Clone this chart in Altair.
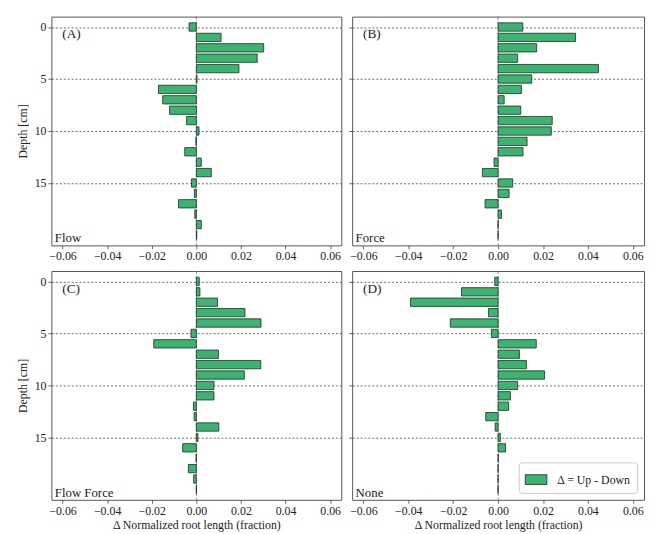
import altair as alt
import pandas as pd

depth = list(range(21))

flow = [-0.0033, 0.0111, 0.0302, 0.0273, 0.0191, 0.0003, -0.0170, -0.0151, -0.0120, -0.0044,
        0.0012, -0.0002, -0.0052, 0.0022, 0.0067, -0.0022, -0.0009, -0.0080, -0.0007, 0.0022, 0.0002]
force = [0.0110, 0.0345, 0.0172, 0.0087, 0.0447, 0.0150, 0.0104, 0.0027, 0.0101, 0.0241,
         0.0237, 0.0129, 0.0111, -0.0018, -0.0070, 0.0065, 0.0049, -0.0058, 0.0015, 0.0, 0.0]
flow_force = [0.0013, 0.0016, 0.0095, 0.0218, 0.0290, -0.0024, -0.0191, 0.0099, 0.0289, 0.0215,
              0.0079, 0.0079, -0.0013, -0.0010, 0.0101, 0.0007, -0.0061, -0.0001, -0.0036, -0.0012, 0.0]
none = [-0.0015, -0.0163, -0.0390, -0.0043, -0.0213, -0.0030, 0.0170, 0.0095, 0.0126, 0.0207,
        0.0087, 0.0055, 0.0047, -0.0055, -0.0013, 0.0010, 0.0033, 0.0001, 0.0, 0.0, 0.0]

panel_keys = ["Flow", "Force", "Flow Force", "None"]
panel_letters = ["(A)", "(B)", "(C)", "(D)"]
series_values = [flow, force, flow_force, none]
legend_label = "Δ = Up - Down"
x_ticks = [-0.06, -0.04, -0.02, 0.0, 0.02, 0.04, 0.06]
y_ticks = [0, 5, 10, 15]

rows = []
for key, vals in zip(panel_keys, series_values):
    for d, v in zip(depth, vals):
        rows.append({"panel": key, "depth": d, "value": v, "label": legend_label})
df = pd.DataFrame(rows)

FONT = "Liberation Serif"
GREEN = "#3cb371"
EDGE = "#1e2a22"
H = 232


def make_panel(key, letter, left, bottom, w, legend=False):
    xaxis = alt.Axis(values=x_ticks, format=".2f", grid=False,
                     title="Δ Normalized root length (fraction)" if bottom else None,
                     titlePadding=4)
    if left:
        yaxis = alt.Axis(values=y_ticks, grid=True, gridDash=[2, 2], gridColor="#444",
                         gridWidth=0.8, title="Depth [cm]", titlePadding=5)
    else:
        yaxis = alt.Axis(values=y_ticks, grid=True, gridDash=[2, 2], gridColor="#444",
                         gridWidth=0.8, labels=False, title=None)
    xs = alt.Scale(domain=[-0.065, 0.065], nice=False, zero=False)
    ys = alt.Scale(domain=[-1, 21], reverse=True, nice=False, zero=False)

    base = alt.Chart(df).transform_filter(alt.datum.panel == key).transform_calculate(
        y0="datum.depth - 0.4", y1="datum.depth + 0.4", zero="0")

    zero_rule = alt.Chart(pd.DataFrame({"z": [0.0]})).mark_rule(
        color="#666", strokeDash=[3, 2], strokeWidth=0.8
    ).encode(x=alt.X("z:Q", scale=xs, axis=xaxis))

    bar_kwargs = dict(
        x=alt.X("value:Q", scale=xs, axis=xaxis),
        x2="zero:Q",
        y=alt.Y("y0:Q", scale=ys, axis=yaxis),
        y2="y1:Q",
    )
    if legend:
        bars = base.mark_bar(stroke=EDGE, strokeWidth=0.8).encode(
            fill=alt.Fill("label:N", scale=alt.Scale(domain=[legend_label], range=[GREEN]),
                          legend=alt.Legend(
                              title=None, orient="bottom-right", offset=7,
                              fillColor="white", strokeColor="#cccccc", cornerRadius=3,
                              padding=6, labelFont=FONT, labelFontSize=12, labelColor="#222",
                              symbolType="M-1,-0.45H1V0.45H-1Z", symbolSize=484,
                              symbolStrokeColor=EDGE, symbolStrokeWidth=0.8,
                              symbolFillColor=GREEN, labelOffset=10)),
            **bar_kwargs)
    else:
        bars = base.mark_bar(fill=GREEN, stroke=EDGE, strokeWidth=0.8).encode(**bar_kwargs)

    letter_text = alt.Chart(pd.DataFrame({"t": [letter]})).mark_text(
        font=FONT, fontSize=13.5, align="left", baseline="middle", color="#222"
    ).encode(text="t:N", x=alt.value(11), y=alt.value(18))
    name_text = alt.Chart(pd.DataFrame({"t": [key]})).mark_text(
        font=FONT, fontSize=13, align="left", baseline="alphabetic", color="#222"
    ).encode(text="t:N", x=alt.value(3.5), y=alt.value(H - 3))

    return alt.layer(zero_rule, bars, letter_text, name_text).properties(width=w, height=H)


pA = make_panel("Flow", "(A)", True, False, 294)
pB = make_panel("Force", "(B)", False, False, 296)
pC = make_panel("Flow Force", "(C)", True, True, 294)
pD = make_panel("None", "(D)", False, True, 296, legend=True)

top = alt.hconcat(pA, pB, spacing=5).resolve_scale(fill="independent").resolve_legend(fill="independent")
bot = alt.hconcat(pC, pD, spacing=5).resolve_scale(fill="independent").resolve_legend(fill="independent")

chart = alt.vconcat(top, bot, spacing=8).resolve_scale(fill="independent").resolve_legend(
    fill="independent"
).properties(
    padding={"left": 8, "top": 4, "right": 2, "bottom": 2},
    background="white",
).configure_view(
    stroke="#555", strokeWidth=1
).configure_axis(
    labelFont=FONT, labelFontSize=12, labelColor="#222",
    titleFont=FONT, titleFontSize=12, titleFontWeight="normal", titleColor="#222",
    tickColor="#444", tickSize=3.5, tickWidth=0.8, labelPadding=2, domain=False,
)

chart.save("out.html", embed_options={"renderer": "svg", "actions": False})
